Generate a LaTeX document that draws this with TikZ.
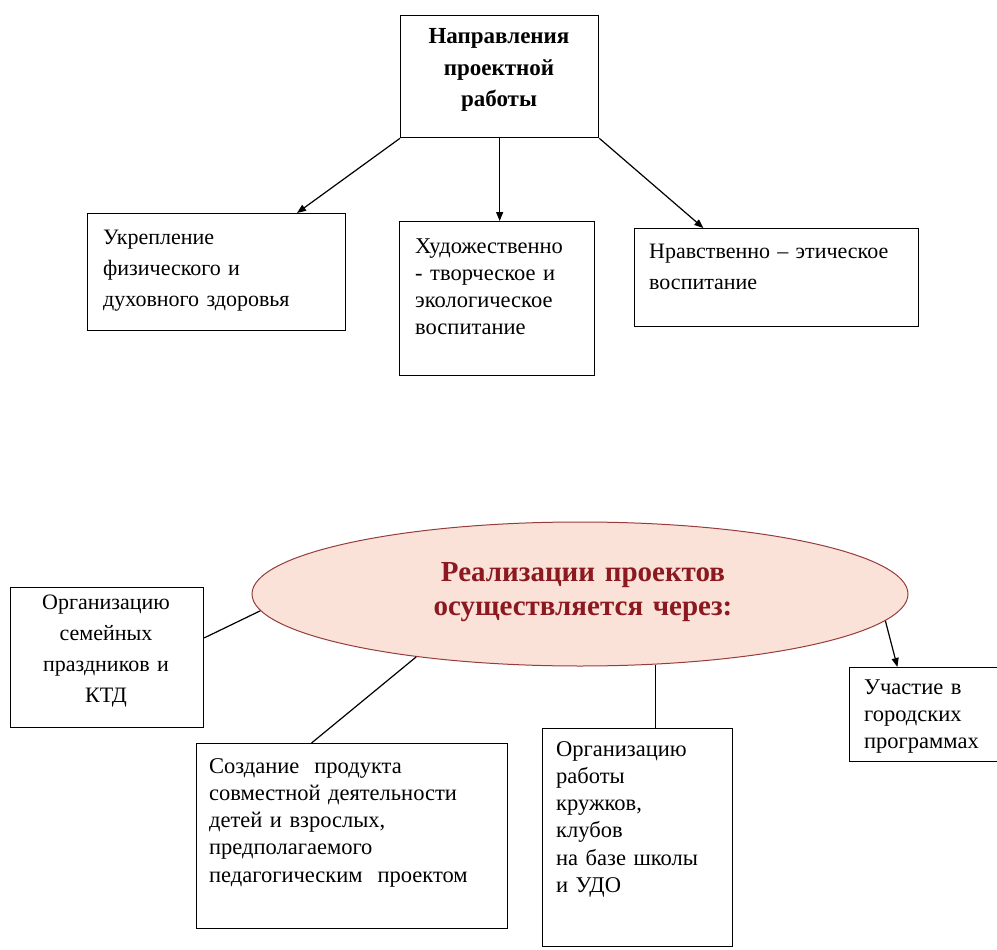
\documentclass[tikz,border=0pt]{standalone}
\usepackage{fontspec}
\setmainfont{Liberation Serif}
\usetikzlibrary{arrows.meta,shapes.geometric,calc}
\definecolor{ellfill}{RGB}{250,226,216}
\definecolor{elldraw}{RGB}{150,60,60}
\definecolor{elltext}{RGB}{140,24,32}
\begin{document}
\begin{tikzpicture}[x=1pt,y=-1pt,
  box/.style={draw, line width=1.3pt, inner sep=0, anchor=north west},
  txt/.style={anchor=base west, align=left, inner sep=0, text width=#1},
  txt/.default=270pt,
  ctxt/.style={anchor=base, align=center, inner sep=0, text width=#1},
  fa/.style={font=\fontsize{22}{31}\selectfont},
  fb/.style={font=\fontsize{22.5}{27.3}\selectfont},
  conn/.style={line width=1.2pt},
  arr/.style={conn, -{Triangle[length=9pt,width=7pt]}}]
\useasboundingbox (0,0) rectangle (997,950);

% top part
\node[box, minimum width=198pt, minimum height=122pt] (top) at (400,15) {};
\node[ctxt=190pt, font=\bfseries\fontsize{23}{31.5}\selectfont] (tTop) at (499,44) {Направления\\проектной\\работы};

\node[box, minimum width=258pt, minimum height=117pt] (A) at (87,213) {};
\node[txt, fa] (tA) at (103,244) {Укрепление\\физического и\\духовного здоровья};

\node[box, minimum width=195pt, minimum height=154pt] (B) at (399,221) {};
\node[txt=175pt, fb] (tB) at (415,253) {Художественно\\- творческое и\\экологическое\\воспитание};

\node[box, minimum width=284pt, minimum height=98pt] (C) at (634,228) {};
\node[txt, fa] (tC) at (649,258) {Нравственно – этическое\\воспитание};

\draw[arr] (top.south west) -- ($(A.north west)!0.81!(A.north east)$);
\draw[arr] (top.south) -- (top.south |- B.north);
\draw[arr] (top.south east) -- ($(C.north west)!0.243!(C.north east)$);

% bottom part
\node[ellipse, draw=elldraw, fill=ellfill, line width=1pt, inner sep=0,
      minimum width=656pt, minimum height=144pt] (ell) at (580,594) {};
\node[ctxt=420pt, text=elltext, font=\bfseries\fontsize{29}{34}\selectfont] (tEll) at (583,581) {Реализации проектов\\осуществляется через:};

\node[box, minimum width=193pt, minimum height=140pt] (D) at (10,587) {};
\node[ctxt=190pt, fa] (tD) at (106,609) {Организацию\\семейных\\праздников и\\КТД};

\node[box, minimum width=311pt, minimum height=185pt] (E) at (196,743) {};
\node[txt=295pt, fb] (tE) at (209,773) {Создание\ \ продукта\\совместной деятельности\\детей и взрослых,\\предполагаемого\\педагогическим\ \ проектом};

\node[box, minimum width=190pt, minimum height=218pt] (F) at (542,728) {};
\node[txt=175pt, fb] (tF) at (556,756) {Организацию\\работы\\кружков,\\клубов\\на базе школы\\и УДО};

\node[box, minimum width=150pt, minimum height=94pt] (G) at (849,667) {};
\node[txt=135pt, fb] (tG) at (864,694) {Участие в\\городских\\программах};

\draw[conn] ($(D.north east)!0.36!(D.south east)$) -- (ell.183);
\draw[conn] (ell.201.5) -- ($(E.north west)!0.37!(E.north east)$);
\draw[conn] (ell.-43.8) -- (ell.-43.8 |- F.north);
\draw[arr] (ell.-5.2) -- ($(G.north west)!0.32!(G.north east)$);
\end{tikzpicture}
\end{document}
